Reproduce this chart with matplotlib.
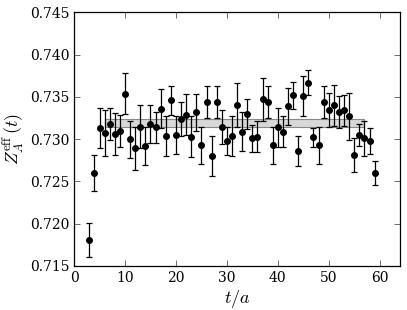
import numpy as np
import matplotlib
matplotlib.use('Agg')
import matplotlib.pyplot as plt

plt.rcParams['font.family'] = 'DejaVu Serif'
plt.rcParams['mathtext.fontset'] = 'cm'

#%% data
t = np.arange(3, 60)
z_eff = [0.7181, 0.7260, 0.7313, 0.7307, 0.7318, 0.7306, 0.7310, 0.7354,
         0.7300, 0.7289, 0.7315, 0.7292, 0.7318, 0.7314, 0.7336, 0.7304,
         0.7346, 0.7305, 0.7324, 0.7329, 0.7303, 0.7332, 0.7293, 0.7344,
         0.7280, 0.7344, 0.7314, 0.7298, 0.7304, 0.7340, 0.7309, 0.7330,
         0.7301, 0.7303, 0.7347, 0.7344, 0.7293, 0.7314, 0.7309, 0.7339,
         0.7352, 0.7286, 0.7351, 0.7367, 0.7302, 0.7293, 0.7344, 0.7335,
         0.7340, 0.7332, 0.7334, 0.7327, 0.7281, 0.7305, 0.7301, 0.7298,
         0.7260]
z_err = [0.0020, 0.0021, 0.0024, 0.0027, 0.0019, 0.0025, 0.0019, 0.0024,
         0.0022, 0.0026, 0.0026, 0.0022, 0.0022, 0.0018, 0.0023, 0.0024,
         0.0017, 0.0022, 0.0020, 0.0024, 0.0024, 0.0022, 0.0022, 0.0019,
         0.0024, 0.0019, 0.0020, 0.0017, 0.0024, 0.0026, 0.0023, 0.0018,
         0.0016, 0.0018, 0.0025, 0.0019, 0.0022, 0.0023, 0.0018, 0.0022,
         0.0016, 0.0018, 0.0024, 0.0015, 0.0011, 0.0022, 0.0019, 0.0020,
         0.0024, 0.0019, 0.0018, 0.0028, 0.0020, 0.0013, 0.0021, 0.0015,
         0.0014]

# plateau fit
fit_range = [6, 57]
fit_lo, fit_hi = 0.7315, 0.7324

#%%
fig = plt.figure(figsize=(4.07, 3.10), dpi=100)
ax = fig.add_axes([0.182, 0.142, 0.801, 0.818])

ax.fill_between(fit_range, fit_lo, fit_hi, facecolor='#d8d8d8',
                edgecolor='#888888', linewidth=0.8, zorder=1)
ax.errorbar(t, z_eff, yerr=z_err, fmt='o', color='black', ms=4,
            elinewidth=0.9, capsize=2.2, capthick=0.9, zorder=3)

ax.set_xlim(0, 64)
ax.set_ylim(0.715, 0.745)
ax.set_xticks([0, 10, 20, 30, 40, 50, 60])
ax.set_yticks(np.arange(0.715, 0.7451, 0.005))
ax.yaxis.set_major_formatter(matplotlib.ticker.FormatStrFormatter('%.3f'))
ax.tick_params(direction='in', top=True, right=True, labelsize=10,
               length=4, width=0.6, colors='#555555', labelcolor='black')
for s in ax.spines.values():
    s.set_linewidth(0.9)

ax.set_xlabel(r'$t/a$', fontsize=13, labelpad=2)
ax.set_ylabel(r'$Z_A^{\rm eff}\,(t)$', fontsize=13, labelpad=2)

fig.savefig('out.png', dpi=100)
